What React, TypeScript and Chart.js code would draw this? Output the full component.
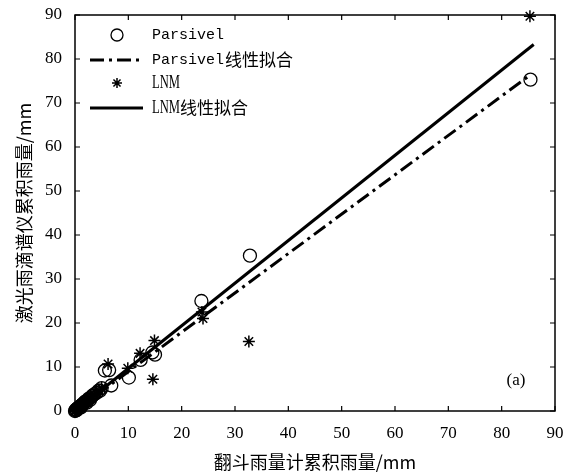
import React, { useEffect, useRef } from "react";
import { Chart, registerables } from "chart.js";

Chart.register(...registerables);

const parsivelX = [0, 0.1, 0.2, 0.3, 0.4, 0.5, 0.6, 0.8, 1.0, 1.1, 1.2, 1.4, 1.6, 1.8, 2.0, 2.2, 2.3, 2.6, 2.8, 3.0, 3.3, 3.6, 4.0, 4.4, 4.7, 5.0, 5.6, 6.4, 6.8, 10.1, 12.3, 14.5, 15.0, 23.7, 32.8, 85.4];
const parsivelY = [0, 0.1, 0.3, 0.2, 0.5, 0.6, 0.7, 0.9, 1.1, 0.8, 1.3, 1.5, 1.7, 2.0, 2.2, 1.9, 2.4, 2.8, 2.5, 3.1, 3.5, 3.8, 4.1, 4.6, 4.6, 5.2, 9.2, 9.3, 5.8, 7.6, 11.6, 13.3, 12.8, 25.0, 35.3, 75.3];

const lnmX = [0, 0.1, 0.2, 0.3, 0.5, 0.7, 0.9, 1.1, 1.4, 1.7, 2.0, 2.4, 2.8, 3.2, 3.6, 4.0, 4.5, 5.0, 6.2, 9.9, 12.2, 14.6, 14.9, 23.8, 24.0, 32.6, 85.3];
const lnmY = [0, 0.1, 0.2, 0.3, 0.5, 0.7, 0.9, 1.1, 1.4, 1.7, 2.0, 2.4, 2.8, 3.2, 3.7, 4.1, 4.6, 5.2, 10.7, 9.7, 13.1, 7.2, 16.0, 22.5, 21.0, 15.8, 89.7];

const parsivelFitX = [0, 85.5];
const parsivelFitY = [0, 76.5];
const lnmFitX = [0, 86];
const lnmFitY = [0, 83.3];

const axisTicks = [0, 10, 20, 30, 40, 50, 60, 70, 80, 90];

const legendLatin = ["Parsivel", "Parsivel", "LNM", "LNM"];
const legendCJK = ["", "线性拟合", "", "线性拟合"];
const xTitle = "翻斗雨量计累积雨量/mm";
const yTitle = "激光雨滴谱仪累积雨量/mm";
const panelLabel = "(a)";

const toPoints = (xs: number[], ys: number[]) => xs.map((x, i) => ({ x, y: ys[i] }));

const DASH_DOT = [14, 5, 3, 5];

function drawStar(ctx: CanvasRenderingContext2D, x: number, y: number, r: number) {
  ctx.beginPath();
  for (let k = 0; k < 4; k++) {
    const a = (k * Math.PI) / 4;
    ctx.moveTo(x - r * Math.cos(a), y - r * Math.sin(a));
    ctx.lineTo(x + r * Math.cos(a), y + r * Math.sin(a));
  }
  ctx.stroke();
}

function drawLabel(ctx: CanvasRenderingContext2D, i: number, x: number, y: number) {
  let cx = x;
  if (i < 2) {
    ctx.font = "15px 'Liberation Mono'";
    ctx.fillText(legendLatin[i], cx, y);
    cx += ctx.measureText(legendLatin[i]).width + 1;
  } else {
    ctx.font = "18px 'Liberation Serif'";
    const w = ctx.measureText(legendLatin[i]).width;
    const sx = 28 / w;
    ctx.save();
    ctx.translate(cx, y);
    ctx.scale(sx, 1);
    ctx.fillText(legendLatin[i], 0, 0);
    ctx.restore();
    cx += 28;
  }
  if (legendCJK[i]) {
    ctx.font = "17px 'Noto Sans CJK SC'";
    ctx.fillText(legendCJK[i], cx, y);
  }
}

const framePlugin = {
  id: "frameAndLegend",
  afterDraw(chart: any) {
    const { ctx, chartArea, scales } = chart;
    const { left, right, top, bottom } = chartArea;
    ctx.save();
    ctx.strokeStyle = "#000";
    ctx.lineWidth = 1.5;
    ctx.setLineDash([]);
    ctx.strokeRect(left, top, right - left, bottom - top);
    const tl = 5;
    ctx.lineWidth = 1.2;
    axisTicks.forEach((v) => {
      const px = scales.x.getPixelForValue(v);
      ctx.beginPath();
      ctx.moveTo(px, bottom);
      ctx.lineTo(px, bottom - tl);
      ctx.moveTo(px, top);
      ctx.lineTo(px, top + tl);
      ctx.stroke();
      const py = scales.y.getPixelForValue(v);
      ctx.beginPath();
      ctx.moveTo(left, py);
      ctx.lineTo(left + tl, py);
      ctx.moveTo(right, py);
      ctx.lineTo(right - tl, py);
      ctx.stroke();
    });

    const symX = 117;
    const lineX0 = 90;
    const lineX1 = 143;
    const textX = 152;
    const rows = [35, 60, 83, 108];
    ctx.fillStyle = "#000";
    ctx.textBaseline = "middle";
    ctx.textAlign = "left";
    ctx.lineWidth = 1.3;
    ctx.beginPath();
    ctx.arc(symX, rows[0], 6, 0, Math.PI * 2);
    ctx.stroke();
    drawLabel(ctx, 0, textX, rows[0]);
    ctx.lineWidth = 3;
    ctx.setLineDash(DASH_DOT);
    ctx.beginPath();
    ctx.moveTo(lineX0, rows[1]);
    ctx.lineTo(lineX1, rows[1]);
    ctx.stroke();
    ctx.setLineDash([]);
    drawLabel(ctx, 1, textX, rows[1]);
    ctx.lineWidth = 1.5;
    drawStar(ctx, symX, rows[2], 5);
    drawLabel(ctx, 2, textX, rows[2]);
    ctx.lineWidth = 3;
    ctx.beginPath();
    ctx.moveTo(lineX0, rows[3]);
    ctx.lineTo(lineX1, rows[3]);
    ctx.stroke();
    drawLabel(ctx, 3, textX, rows[3]);

    ctx.font = "17px 'Liberation Serif'";
    ctx.textAlign = "center";
    ctx.fillText(panelLabel, 516, 381);
    ctx.restore();
  },
};

export default function App() {
  const ref = useRef<HTMLCanvasElement | null>(null);
  useEffect(() => {
    if (!ref.current) return;
    const tickFont = { family: "'Liberation Serif', serif", size: 17 };
    const chart = new Chart(ref.current, {
      type: "scatter",
      data: {
        datasets: [
          {
            label: "Parsivel线性拟合",
            type: "line",
            data: toPoints(parsivelFitX, parsivelFitY),
            borderColor: "#000",
            borderWidth: 3,
            borderDash: DASH_DOT,
            pointRadius: 0,
            fill: false,
            order: 1,
          } as any,
          {
            label: "LNM线性拟合",
            type: "line",
            data: toPoints(lnmFitX, lnmFitY),
            borderColor: "#000",
            borderWidth: 3,
            pointRadius: 0,
            fill: false,
            order: 0,
          } as any,
          {
            label: "Parsivel",
            data: toPoints(parsivelX, parsivelY),
            pointStyle: "circle",
            pointRadius: 6.5,
            borderColor: "#000",
            backgroundColor: "rgba(0,0,0,0)",
            pointBorderWidth: 1.3,
            order: 3,
          } as any,
          {
            label: "LNM",
            data: toPoints(lnmX, lnmY),
            pointStyle: "star",
            pointRadius: 6,
            borderColor: "#000",
            backgroundColor: "#000",
            pointBorderWidth: 1.5,
            order: 2,
          } as any,
        ],
      },
      options: {
        animation: false,
        responsive: false,
        clip: false as any,
        layout: { padding: { top: 15, right: 10, left: 0, bottom: 0 } },
        plugins: { legend: { display: false }, tooltip: { enabled: false } },
        scales: {
          x: {
            type: "linear",
            min: 0,
            max: 90,
            afterBuildTicks: (s: any) => {
              s.ticks = axisTicks.map((v) => ({ value: v }));
            },
            afterFit: (s: any) => {
              s.height = 64;
              s.paddingLeft = 0;
              s.paddingRight = 0;
            },
            grid: { display: false, drawTicks: false },
            border: { display: false },
            ticks: { color: "#000", font: tickFont, padding: 12, maxRotation: 0 },
            title: {
              display: true,
              text: xTitle,
              color: "#000",
              font: { family: "'Noto Sans CJK SC'", size: 18 },
              padding: { top: 0, bottom: 2 },
            },
          },
          y: {
            type: "linear",
            min: 0,
            max: 90,
            afterBuildTicks: (s: any) => {
              s.ticks = axisTicks.map((v) => ({ value: v }));
            },
            afterFit: (s: any) => {
              s.width = 75;
              s.paddingTop = 0;
              s.paddingBottom = 0;
            },
            grid: { display: false, drawTicks: false },
            border: { display: false },
            ticks: { color: "#000", font: tickFont, padding: 13 },
            title: {
              display: true,
              text: yTitle,
              color: "#000",
              font: { family: "'Noto Sans CJK SC'", size: 18 },
              padding: { top: 13, bottom: 0 },
            },
          },
        },
      },
      plugins: [framePlugin],
    });
    return () => chart.destroy();
  }, []);
  return (
    <div style={{ position: "absolute", left: 0, top: 0, width: 565, height: 475, background: "#fff" }}>
      <canvas ref={ref} width={565} height={475} style={{ width: 565, height: 475 }} />
    </div>
  );
}
